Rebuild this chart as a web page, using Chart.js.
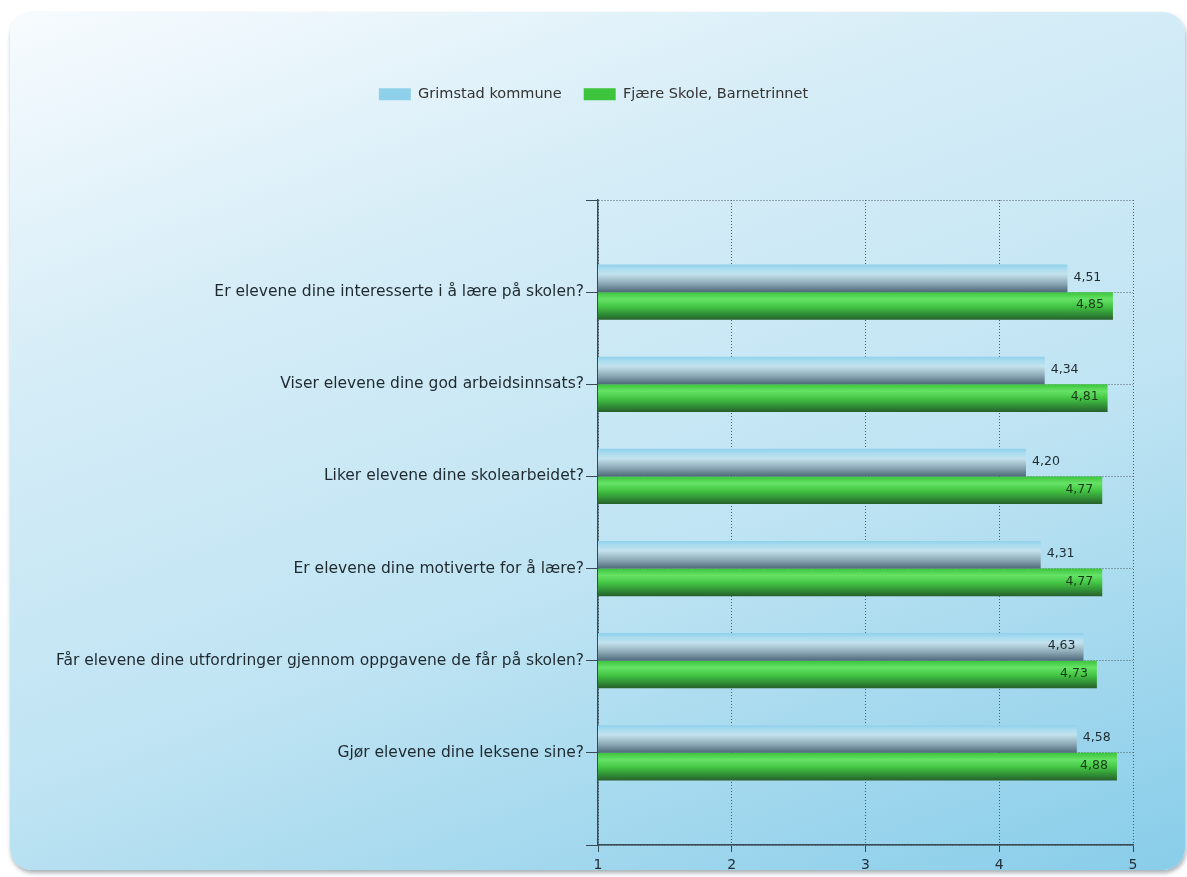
<!DOCTYPE html>
<html>
<head>
<meta charset="utf-8">
<script src="https://cdn.jsdelivr.net/npm/chart.js@4"></script>
<style>
  body { margin: 0; background: #fff; }
  #wrap { position: relative; width: 1187px; height: 877px; overflow: hidden; }
  #panel {
    position: absolute; left: 10px; top: 12px; width: 1175px; height: 858px;
    border-radius: 22px;
    background: linear-gradient(160deg, #f7fbfe 0%, #d6edf7 28%, #c0e4f3 60%, #88cde9 100%);
    box-shadow: 1px 3px 4px rgba(60, 80, 90, 0.45);
  }
  #myChart { position: absolute; left: 0; top: 0; }
</style>
</head>
<body>
<div id="wrap">
  <div id="panel"></div>
  <canvas id="myChart" width="1187" height="877"></canvas>
</div>
<script>
// spørsmål (kategorier)
const categories = [
  'Er elevene dine interesserte i å lære på skolen?',
  'Viser elevene dine god arbeidsinnsats?',
  'Liker elevene dine skolearbeidet?',
  'Er elevene dine motiverte for å lære?',
  'Får elevene dine utfordringer gjennom oppgavene de får på skolen?',
  'Gjør elevene dine leksene sine?'
];
const grimstad = [4.51, 4.34, 4.20, 4.31, 4.63, 4.58];
const fjaere = [4.85, 4.81, 4.77, 4.77, 4.73, 4.88];
const seriesNames = ['Grimstad kommune', 'Fjære Skole, Barnetrinnet'];
const xTicks = [1, 2, 3, 4, 5];

const FONT = '"DejaVu Sans", Verdana, sans-serif';
const CAT_PCT = 0.6;

// tom plass over og under, som i originalen
const labels = [''].concat(categories, ['']);
const pad = arr => [null].concat(arr, [null]);

// sylinder-aktig gradient for hver stolpe
function barFill(solid, stops, half) {
  return function (c) {
    if (c.dataIndex === undefined) return solid;
    const chart = c.chart;
    const y = chart.scales && chart.scales.y;
    if (!y || !chart.chartArea) return solid;
    const center = y.getPixelForValue(c.dataIndex);
    const step = Math.abs(y.getPixelForValue(1) - y.getPixelForValue(0));
    const h = step * CAT_PCT / 2;
    const top = half === 0 ? center - h : center;
    if (!isFinite(top) || h <= 0) return solid;
    const g = chart.ctx.createLinearGradient(0, top, 0, top + h);
    stops.forEach(s => g.addColorStop(s[0], s[1]));
    return g;
  };
}

// verdietiketter
const valueLabels = {
  id: 'valueLabels',
  afterDatasetsDraw(chart) {
    const ctx = chart.ctx;
    const m0 = chart.getDatasetMeta(0), m1 = chart.getDatasetMeta(1);
    ctx.save();
    ctx.font = '12.5px ' + FONT;
    ctx.textBaseline = 'middle';
    ctx.fillStyle = '#1f2a30';
    m0.data.forEach((bar, i) => {
      const v = chart.data.datasets[0].data[i];
      if (v == null) return;
      const txt = v.toFixed(2).replace('.', ',');
      const w = ctx.measureText(txt).width;
      const other = m1.data[i];
      if (bar.x + 6 + w + 2 > other.x) {
        ctx.textAlign = 'right';
        ctx.fillText(txt, bar.x - 8, bar.y - 1);
      } else {
        ctx.textAlign = 'left';
        ctx.fillText(txt, bar.x + 6, bar.y - 1);
      }
    });
    ctx.fillStyle = '#1a3a1a';
    m1.data.forEach((bar, i) => {
      const v = chart.data.datasets[1].data[i];
      if (v == null) return;
      ctx.textAlign = 'right';
      ctx.fillText(v.toFixed(2).replace('.', ','), bar.x - 9, bar.y - 1);
    });
    ctx.restore();
  }
};

// legenden får fast høyde
const legendHeight = {
  id: 'legendHeight',
  beforeInit(chart) {
    const fit = chart.legend.fit;
    chart.legend.fit = function () {
      fit.bind(chart.legend)();
      this.height = 135;
    };
  }
};

const ctx = document.getElementById('myChart');
const myChart = new Chart(ctx, {
  type: 'bar',
  data: {
    labels: labels,
    datasets: [{
      label: seriesNames[0],
      data: pad(grimstad),
      backgroundColor: barFill('#87ceeb', [
        [0, '#8fd0ea'], [0.15, '#a9dcef'], [0.35, '#c4e2ee'],
        [0.7, '#8aa6b4'], [1, '#4d6877']
      ], 0),
      borderWidth: 0,
      barPercentage: 1,
      categoryPercentage: CAT_PCT
    }, {
      label: seriesNames[1],
      data: pad(fjaere),
      backgroundColor: barFill('#32cd32', [
        [0, '#3cc43c'], [0.25, '#66e266'], [0.5, '#45c845'],
        [0.8, '#2f8d35'], [1, '#275f2c']
      ], 1),
      borderWidth: 0,
      barPercentage: 1,
      categoryPercentage: CAT_PCT
    }]
  },
  options: {
    indexAxis: 'y',
    responsive: false,
    animation: false,
    layout: { padding: { top: 65, right: 54, left: 54, bottom: 0 } },
    plugins: {
      legend: {
        position: 'top',
        labels: {
          boxWidth: 32, boxHeight: 12, padding: 22,
          color: '#333', font: { family: FONT, size: 14.5 }
        }
      },
      tooltip: { enabled: false }
    },
    scales: {
      x: {
        type: 'linear',
        min: 1, max: 5,
        afterBuildTicks: s => { s.ticks = xTicks.map(v => ({ value: v })); },
        afterFit: s => { s.height = 32; },
        ticks: { color: '#23313a', font: { family: FONT, size: 14 }, padding: 5 },
        grid: { color: '#4f5f68', tickColor: '#3a4a55', tickLength: 7, lineWidth: 1 },
        border: { color: '#3a4a55', width: 1.5, dash: [1, 2] }
      },
      y: {
        type: 'category',
        offset: false,
        afterFit: s => { s.width = 598 - 54; },
        ticks: { color: '#1f2a30', font: { family: FONT, size: 15.5 }, padding: 2, autoSkip: false },
        grid: { offset: false, color: '#4f5f68', tickColor: '#3a4a55', tickLength: 12, lineWidth: 1 },
        border: { color: '#3a4a55', width: 1.5, dash: [1, 2] }
      }
    }
  },
  plugins: [valueLabels, legendHeight]
});
</script>
</body>
</html>
